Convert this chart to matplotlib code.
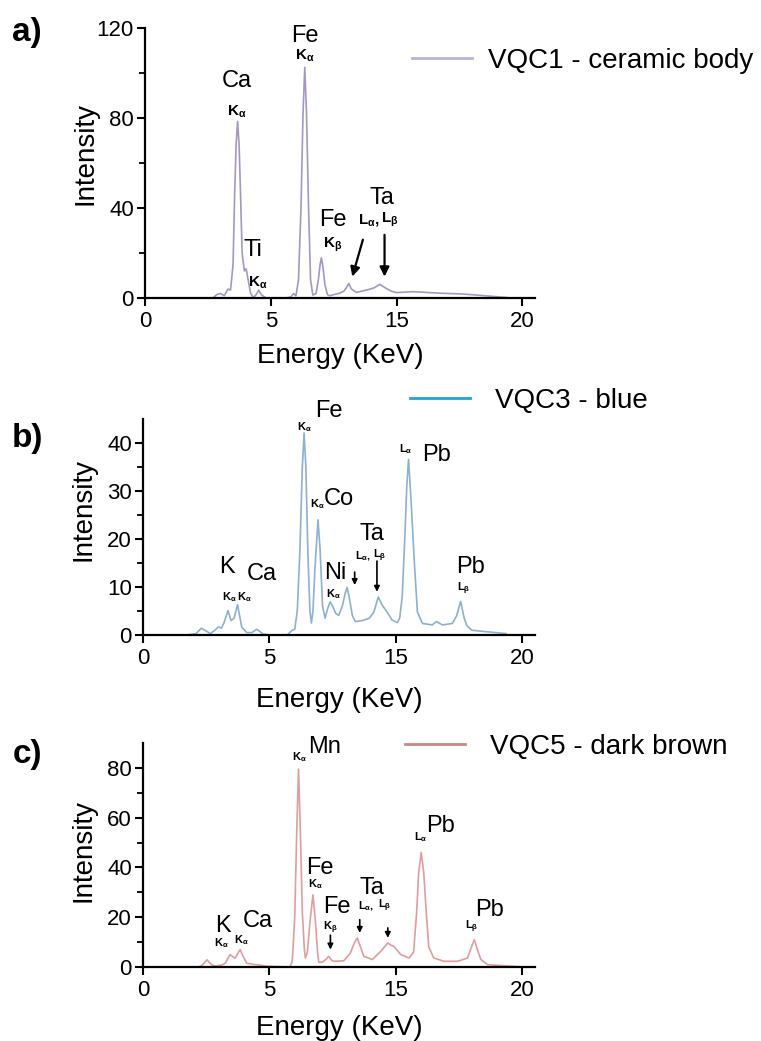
import numpy as np
import matplotlib.pyplot as plt
from matplotlib.lines import Line2D

plt.rcParams['font.family'] = ['Liberation Sans', 'DejaVu Sans']
plt.rcParams['mathtext.fontset'] = 'custom'
plt.rcParams['mathtext.rm'] = 'Liberation Sans'
plt.rcParams['mathtext.it'] = 'Liberation Sans:bold'
plt.rcParams['mathtext.bf'] = 'Liberation Sans:bold'

# ---- data (energy axis in its own units, intensity) ----
energy_a = [0.0, 2.7, 2.85, 3.0, 3.15, 3.3, 3.4, 3.5, 3.56, 3.62, 3.68, 3.74, 3.8, 3.86,
            3.95, 4.02, 4.1, 4.2, 4.3, 4.42, 4.52, 4.62, 4.8, 5.6, 5.8, 5.9, 6.0, 6.1,
            6.2, 6.28, 6.35, 6.42, 6.5, 6.58, 6.67, 6.8, 6.9, 6.96, 7.01, 7.07, 7.15,
            7.25, 7.34, 7.5, 7.7, 7.9, 8.0, 8.1, 8.2, 8.4, 8.6, 8.9, 9.1, 9.25, 9.33,
            9.45, 9.64, 9.8, 9.98, 10.3, 10.65, 11.0, 11.3, 11.8, 12.6, 13.3, 13.95, 14.4]
intensity_a = [0, 0, 1.5, 2.0, 1.0, 4.0, 3.5, 15, 45, 68, 78.5, 68, 45, 20,
               12, 13, 8, 2, 0.2, 1.5, 3.5, 1.5, 0, 0, 0.5, 2.0, 1.0, 8,
               40, 82, 102.5, 82, 40, 8, 1.3, 2, 9, 15, 17.8, 14, 6,
               1.5, 1.0, 1.5, 2.0, 3.0, 4.5, 6.5, 4.0, 2.5, 3.0, 3.8, 4.5, 5.5, 6.1,
               5.2, 3.9, 3.0, 2.4, 2.6, 2.8, 2.6, 2.4, 2.1, 1.8, 1.2, 0.6, 0.2]

energy_b = [0.0, 1.75, 2.1, 2.3, 2.45, 2.66, 2.85, 2.98, 3.1, 3.2, 3.36, 3.48, 3.6, 3.74,
            3.82, 3.9, 4.1, 4.3, 4.5, 4.75, 5.0, 5.7, 5.9, 6.0, 6.1, 6.2, 6.3, 6.37,
            6.44, 6.52, 6.6, 6.66, 6.72, 6.8, 6.92, 7.0, 7.05, 7.1, 7.2, 7.3, 7.4, 7.5,
            7.62, 7.74, 7.88, 8.0, 8.07, 8.15, 8.28, 8.4, 8.67, 8.95, 9.13, 9.3, 9.46,
            9.65, 9.85, 10.05, 10.15, 10.25, 10.35, 10.43, 10.5, 10.6, 10.72, 10.85,
            11.05, 11.44, 11.6, 11.84, 12.23, 12.4, 12.56, 12.7, 12.8, 13.0, 13.55, 14.35]
intensity_b = [0, 0, 0.3, 1.4, 1.0, 0.3, 1.0, 1.7, 1.4, 2.5, 5.1, 3.0, 3.5, 6.3,
               4.0, 1.7, 0.5, 0.5, 1.2, 0.2, 0, 0, 1.0, 1.2, 5, 17, 35, 42.1,
               35, 17, 5, 2.5, 5, 14, 24, 18, 12, 6, 3.5, 5.5, 6.9, 6.0,
               4.5, 4.1, 6, 8.8, 9.9, 8, 4, 2.8, 3.0, 3.5, 4.8, 7.9, 6.2,
               4.8, 3.1, 2.6, 3.5, 8, 20, 31, 36.6, 28, 16, 4.8,
               2.4, 2.1, 2.8, 2.1, 2.4, 4, 7.0, 3.5, 2.0, 1.0, 0.7, 0.3]

energy_c = [0.0, 2.2, 2.35, 2.53, 2.7, 2.85, 3.12, 3.25, 3.44, 3.64, 3.84, 3.95, 4.1, 4.4,
            4.6, 4.9, 5.8, 5.9, 6.0, 6.08, 6.15, 6.22, 6.3, 6.38, 6.42, 6.5, 6.6, 6.72,
            6.82, 6.9, 6.95, 7.1, 7.25, 7.34, 7.45, 7.54, 7.94, 8.2, 8.35, 8.47, 8.6,
            8.73, 9.07, 9.4, 9.68, 9.8, 9.92, 10.19, 10.52, 10.7, 10.82, 10.9, 11.0,
            11.1, 11.2, 11.3, 11.5, 11.9, 12.44, 12.83, 12.95, 13.1, 13.22, 13.36,
            13.63, 14.15, 14.8]
intensity_c = [0, 0, 0.8, 2.9, 1.0, 0.4, 0.8, 1.5, 5.0, 3.5, 7.0, 4.5, 1.5, 1.0,
               0.8, 0.3, 0, 2, 20, 55, 79.5, 55, 22, 7, 3.6, 6, 18, 29,
               18, 6, 1.9, 2.0, 3.2, 4.3, 2.8, 2.3, 2.5, 5.6, 9.5, 11.7, 8,
               4.3, 3.0, 6.3, 9.7, 8.8, 8.3, 5.0, 3.6, 6, 22, 38, 46,
               38, 22, 8, 3.6, 2.3, 2.3, 3.6, 7, 11, 7, 3.0,
               0.9, 0.6, 0.2]

xtick_pos = [0, 5, 10, 15]
xtick_labels = ['0', '5', '15', '20']

names = ['VQC1 - ceramic body', 'VQC3 - blue', 'VQC5 - dark brown']
line_colors = ['#a597c2', '#8db0d3', '#e29c9e']
legend_colors = ['#bdb2d8', '#1fa7d4', '#c98a7e']

W, H = 761, 1041
fig = plt.figure(figsize=(W / 100, H / 100), dpi=100)


def px_axes(x0, x1, ytop, ybot):
    return fig.add_axes([x0 / W, 1 - ybot / H, (x1 - x0) / W, (ybot - ytop) / H])


def style(ax, ymax, major, minor, ylab_y, xlab_y):
    ax.set_xlim(0, 15.5)
    ax.set_ylim(0, ymax)
    ax.set_xticks(xtick_pos)
    ax.set_xticklabels(xtick_labels)
    ax.set_yticks(np.arange(0, ymax + 0.1, major))
    ax.set_yticks(np.arange(minor, ymax, major), minor=True)
    for s in ['top', 'right']:
        ax.spines[s].set_visible(False)
    for s in ['left', 'bottom']:
        ax.spines[s].set_linewidth(1.6)
    ax.tick_params(which='major', length=6, width=1.5, labelsize=16, pad=3)
    ax.tick_params(which='minor', length=4, width=1.3)
    ax.tick_params(axis='y', pad=2)
    ax.set_ylabel('Intensity', fontsize=20)
    ax.yaxis.set_label_coords(-0.118, ylab_y)
    ax.set_xlabel('Energy (KeV)', fontsize=20)
    ax.xaxis.set_label_coords(0.5, xlab_y)


def legend(ax, i, x, y, pad):
    h = Line2D([], [], color=legend_colors[i], lw=2)
    ax.legend([h], [names[i]], loc='center left', bbox_to_anchor=(x / W, 1 - y / H),
              bbox_transform=fig.transFigure, frameon=False, fontsize=20,
              handlelength=2.15, handletextpad=pad, borderpad=0, borderaxespad=0)


def t(ax, x, y, s, size=16):
    ax.text(x, y, s, ha='center', va='center', fontsize=size, clip_on=False)


def arrow(ax, x0, y0, x1, y1, lw=1.6, head=14):
    ax.annotate('', xy=(x1, y1), xytext=(x0, y0),
                arrowprops=dict(arrowstyle='-|>', color='k', lw=lw,
                                mutation_scale=head, shrinkA=0, shrinkB=0))


K_a = r'$\mathbf{K}_{\alpha}$'
K_b = r'$\mathbf{K}_{\beta}$'
L_a = r'$\mathbf{L}_{\alpha}$'
L_b = r'$\mathbf{L}_{\beta}$'
L_ab = r'$\mathbf{L}_{\alpha}\mathbf{,}$'

# ---------------- a) ----------------
ax = px_axes(145, 535, 28, 298)
ax.plot(energy_a, intensity_a, color=line_colors[0], lw=1.2)
style(ax, 120, 40, 20, 0.537, -0.165)
legend(ax, 0, 412, 61, 0.6)
t(ax, 3.65, 96.4, 'Ca', 17)
t(ax, 3.65, 82.6, K_a, 11)
t(ax, 4.29, 21.4, 'Ti', 17)
t(ax, 4.48, 6.7, K_a, 11)
t(ax, 6.35, 116.5, 'Fe', 17)
t(ax, 6.35, 107.6, K_a, 11)
t(ax, 7.46, 34.8, 'Fe', 17)
t(ax, 7.46, 23.7, K_b, 11)
t(ax, 9.4, 44.6, 'Ta', 17)
t(ax, 8.9, 34.8, L_ab, 11)
t(ax, 9.74, 34.8, L_b, 11)
arrow(ax, 8.66, 25.9, 8.24, 9.5)
arrow(ax, 9.52, 28.1, 9.52, 9.5)
fig.text(27 / W, 1 - 33 / H, 'a)', fontsize=24, weight='bold', ha='center', va='center')

# ---------------- b) ----------------
ax = px_axes(143, 535, 419, 635)
ax.plot(energy_b, intensity_b, color=line_colors[1], lw=1.2)
style(ax, 45, 10, 5, 0.579, -0.24)
legend(ax, 1, 410, 401, 0.9)
t(ax, 3.32, 14.1, 'K', 17)
t(ax, 3.4, 7.9, K_a, 8)
t(ax, 4.0, 7.9, K_a, 8)
t(ax, 4.71, 12.8, 'Ca', 17)
t(ax, 6.39, 43.3, K_a, 8)
t(ax, 7.35, 46.6, 'Fe', 17)
t(ax, 6.9, 27.3, K_a, 8)
t(ax, 7.74, 28.3, 'Co', 17)
t(ax, 7.6, 12.9, 'Ni', 17)
t(ax, 7.53, 8.5, K_a, 8)
arrow(ax, 8.37, 13.1, 8.37, 10.4, lw=1.2, head=8)
t(ax, 9.07, 21.0, 'Ta', 17)
t(ax, 8.72, 16.5, L_ab, 8)
t(ax, 9.36, 16.5, L_b, 8)
arrow(ax, 9.25, 15.4, 9.25, 9.0, lw=1.2, head=8)
t(ax, 10.4, 38.7, L_a, 8)
t(ax, 11.59, 37.6, 'Pb', 17)
t(ax, 12.95, 14.1, 'Pb', 17)
t(ax, 12.67, 9.7, L_b, 8)
fig.text(27 / W, 1 - 438 / H, 'b)', fontsize=24, weight='bold', ha='center', va='center')

# ---------------- c) ----------------
ax = px_axes(143, 535, 743, 967)
ax.plot(energy_c, intensity_c, color=line_colors[2], lw=1.2)
style(ax, 90, 20, 10, 0.52, -0.215)
legend(ax, 2, 405, 747, 0.9)
t(ax, 6.2, 84.3, K_a, 8)
t(ax, 7.18, 88.3, 'Mn', 17)
t(ax, 7.01, 39.9, 'Fe', 17)
t(ax, 6.81, 33.2, K_a, 8)
t(ax, 7.67, 24.0, 'Fe', 17)
t(ax, 7.41, 15.8, K_b, 8)
arrow(ax, 7.41, 12.8, 7.41, 7.0, lw=1.2, head=8)
t(ax, 3.15, 16.4, 'K', 17)
t(ax, 3.11, 9.7, K_a, 8)
t(ax, 3.9, 10.8, K_a, 8)
t(ax, 4.55, 18.4, 'Ca', 17)
t(ax, 9.06, 31.9, 'Ta', 17)
t(ax, 8.84, 24.4, L_ab, 8)
t(ax, 9.57, 24.4, L_b, 8)
arrow(ax, 8.57, 19.0, 8.57, 13.7, lw=1.2, head=8)
arrow(ax, 9.68, 15.7, 9.68, 11.7, lw=1.2, head=8)
t(ax, 11.0, 52.0, L_a, 8)
t(ax, 11.75, 56.7, 'Pb', 17)
t(ax, 13.0, 16.2, L_b, 8)
t(ax, 13.72, 22.8, 'Pb', 17)
fig.text(27 / W, 1 - 754 / H, 'c)', fontsize=24, weight='bold', ha='center', va='center')

fig.savefig('out.png', dpi=100)
